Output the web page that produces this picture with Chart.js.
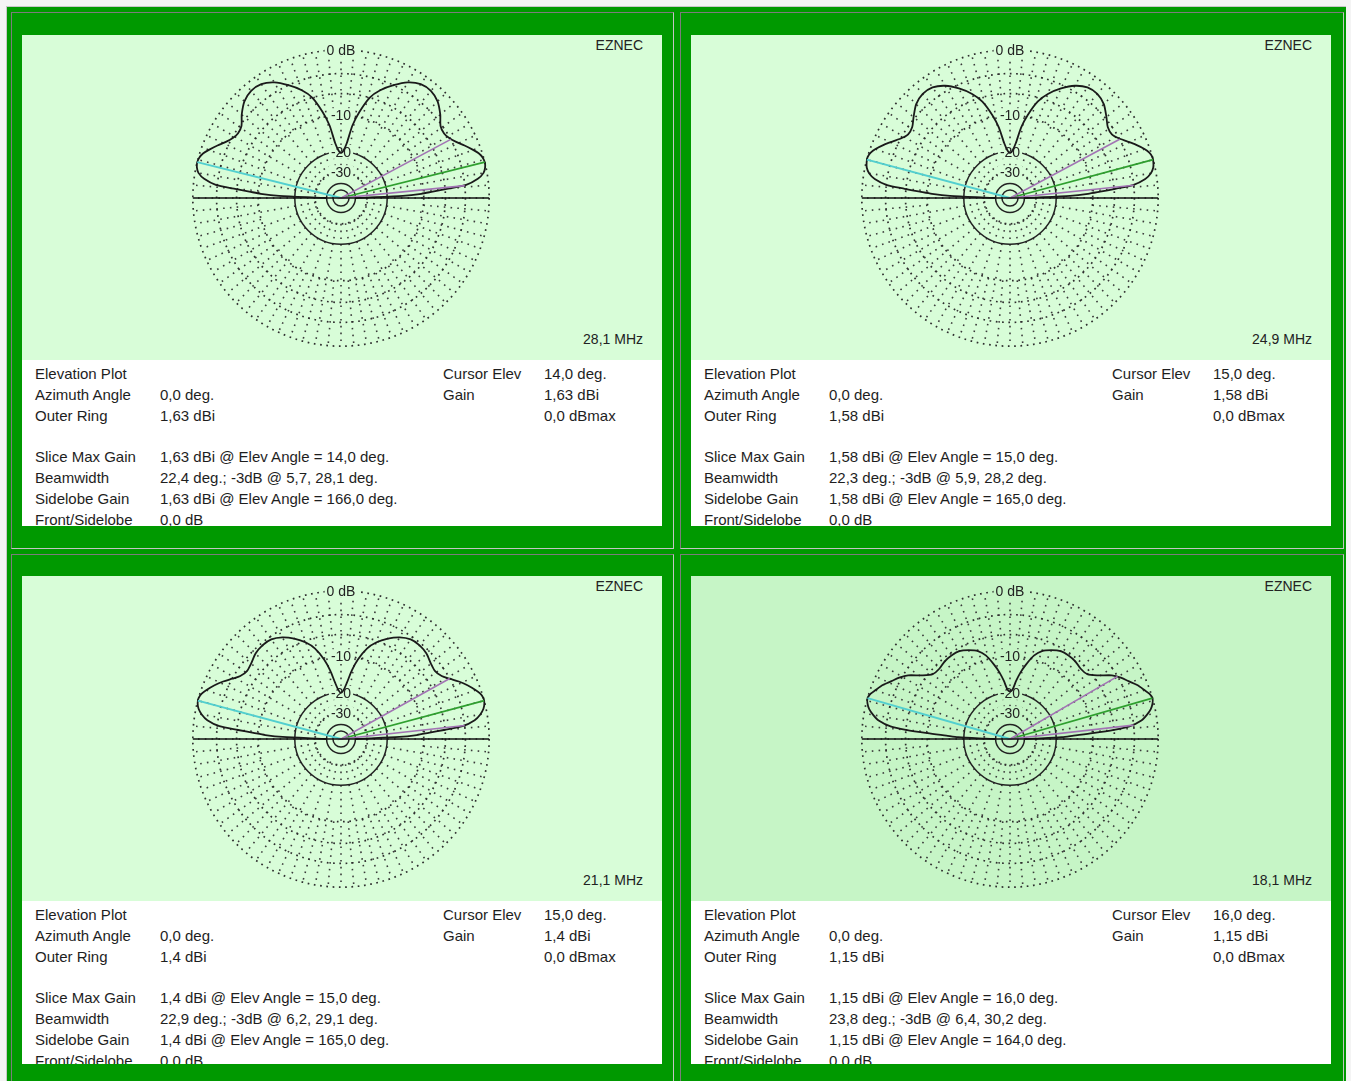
<!DOCTYPE html>
<html>
<head>
<meta charset="utf-8">
<script src="https://cdn.jsdelivr.net/npm/chart.js@4.4.0/dist/chart.umd.min.js"></script>
<style>
body { margin: 0; width: 1351px; height: 1081px; background: #f4f4f4; position: relative; overflow: hidden; font-family: "Liberation Sans", Arial, sans-serif; }
#bg { position: absolute; left: 6px; top: 6px; width: 1340px; height: 1075px; background: #009900; border-left: 1px solid #c8c8c8; border-top: 1px solid #c8c8c8; box-sizing: border-box; }
.frame { position: absolute; border-left: 1px solid #7c7c7c; border-top: 1px solid #7c7c7c; border-right: 1px solid #c4c4c4; border-bottom: 1px solid #c4c4c4; box-sizing: border-box; }
.plot { position: absolute; width: 640px; height: 325px; overflow: hidden; }
.plot canvas { position: absolute; left: 156px; top: 0; }
.tag { position: absolute; font-size: 14px; color: #222; white-space: nowrap; }
.info { position: absolute; width: 640px; background: #fff; overflow: hidden; font-size: 15px; color: #1e1e1e; }
.row { position: absolute; white-space: nowrap; line-height: 21px; }
</style>
</head>
<body>
<div id="bg"></div>
<div class="frame" style="left:11px;top:12px;width:663px;height:537px"></div>
<div class="frame" style="left:680px;top:12px;width:664px;height:537px"></div>
<div class="frame" style="left:11px;top:554px;width:663px;height:540px"></div>
<div class="frame" style="left:680px;top:554px;width:664px;height:540px"></div>
<script>
// elevation angles (deg) where the pattern was read
const elevAngles = [0, 1, 2, 3, 4, 5, 6, 8, 10, 12, 14, 16, 18, 20, 23, 26, 29, 32, 36, 40, 45, 50, 55, 60, 65, 70, 74, 78, 81, 84, 87, 90,
  93, 96, 99, 102, 106, 110, 115, 120, 125, 130, 135, 140, 144, 148, 151, 154, 157, 160, 162, 164, 166, 168, 170, 172, 174, 175, 176, 177, 178, 179, 180];

// gain in dB relative to outer ring
const gain28 = [-40, -30, -15, -10.5, -8.2, -5.5, -2.8, -1.2, -0.4, -0.1, 0, -0.1, -0.4, -0.9, -1.7, -2.5, -3.1, -3.4, -3.2, -2.3, -1.4, -1.0, -1.1, -1.8, -3.0, -4.4, -6.0, -9.0, -12.0, -17.0, -19.5, -20.5,
  -19.5, -17.0, -12.0, -9.0, -6.0, -4.4, -3.0, -1.8, -1.1, -1.0, -1.4, -2.3, -3.2, -3.4, -3.1, -2.5, -1.7, -0.9, -0.4, -0.1, 0, -0.1, -0.4, -1.2, -2.8, -5.5, -8.2, -10.5, -15, -30, -40];
const gain24 = [-40, -30, -15.5, -11, -8.5, -5.8, -3.1, -1.4, -0.6, -0.2, -0.05, 0, -0.2, -0.6, -1.4, -2.3, -3.1, -3.6, -3.5, -2.8, -1.9, -1.5, -1.6, -2.3, -3.5, -5.0, -6.7, -9.6, -12.5, -17.0, -19.5, -20.5,
  -19.5, -17.0, -12.5, -9.6, -6.7, -5.0, -3.5, -2.3, -1.6, -1.5, -1.9, -2.8, -3.5, -3.6, -3.1, -2.3, -1.4, -0.6, -0.2, 0, -0.05, -0.2, -0.6, -1.4, -3.1, -5.8, -8.5, -11, -15.5, -30, -40];
const gain21 = [-40, -31, -16, -11.5, -9, -6.2, -3.3, -1.6, -0.8, -0.3, -0.05, 0, -0.2, -0.6, -1.3, -2.1, -3.0, -3.8, -4.2, -4.0, -3.5, -3.3, -3.4, -4.0, -5.0, -6.3, -7.8, -10.3, -13.0, -16.5, -19.0, -20.0,
  -19.0, -16.5, -13.0, -10.3, -7.8, -6.3, -5.0, -4.0, -3.4, -3.3, -3.5, -4.0, -4.2, -3.8, -3.0, -2.1, -1.3, -0.6, -0.2, 0, -0.05, -0.3, -0.8, -1.6, -3.3, -6.2, -9, -11.5, -16, -31, -40];
const gain18 = [-40, -31, -18, -14.5, -10, -6.0, -3.6, -1.9, -1.1, -0.5, -0.15, 0, -0.2, -0.6, -1.2, -2.0, -2.7, -3.6, -5.4, -6.6, -6.8, -6.5, -6.4, -6.5, -7.1, -7.9, -9.2, -11.5, -13.5, -16.0, -18.8, -19.5,
  -18.8, -16.0, -13.5, -11.5, -9.2, -7.9, -7.1, -6.5, -6.4, -6.5, -6.8, -6.6, -5.4, -3.6, -2.7, -2.0, -1.2, -0.6, -0.2, 0, -0.15, -0.5, -1.1, -1.9, -3.6, -6.0, -10, -14.5, -18, -31, -40];
const gains = [gain28, gain24, gain21, gain18];

const freqLabels = ['28,1 MHz', '24,9 MHz', '21,1 MHz', '18,1 MHz'];
const maxElev = [14, 15, 15, 16];
const lowHalfPower = [5.7, 5.9, 6.2, 6.4];
const highHalfPower = [28.1, 28.2, 29.1, 30.2];
const sidelobeElev = [166, 165, 165, 164];
const outerRing = ['1,63 dBi', '1,58 dBi', '1,4 dBi', '1,15 dBi'];
const cursorElev = ['14,0 deg.', '15,0 deg.', '15,0 deg.', '16,0 deg.'];
const beamwidth = ['22,4 deg.; -3dB @ 5,7, 28,1 deg.', '22,3 deg.; -3dB @ 5,9, 28,2 deg.', '22,9 deg.; -3dB @ 6,2, 29,1 deg.', '23,8 deg.; -3dB @ 6,4, 30,2 deg.'];
const sidelobeText = ['166,0 deg.', '165,0 deg.', '165,0 deg.', '164,0 deg.'];

const ringDb = [0, -3, -6, -10, -20, -30, -40, -50];
const ringLabelDb = [0, -10, -20, -30];
const ringLabels = ['0 dB', '-10', '-20', '-30'];

// ARRL log scale: 2 dB per 0.89 step
const rOf = db => Math.pow(0.89, Math.abs(db) / 2);
const pt = (elev, db) => {
  const r = rOf(db), a = elev * Math.PI / 180;
  return { x: r * Math.cos(a), y: r * Math.sin(a) };
};

const panelLeft = [22, 691, 22, 691];
const panelTop = [35, 35, 576, 576];
const plotBg = ['#d8fdd8', '#d8fdd8', '#d8fdd8', '#c6f5c6'];

const gridPlugin = {
  id: 'arrlGrid',
  beforeDatasetsDraw(chart) {
    const { ctx, scales: { x, y } } = chart;
    const cx = x.getPixelForValue(0), cy = y.getPixelForValue(0);
    const R = x.getPixelForValue(1) - cx;
    ctx.save();
    ctx.strokeStyle = '#3a3a3a';
    // spokes
    ctx.lineWidth = 1.6;
    ctx.setLineDash([1.6, 5.2]);
    for (let a = 0; a < 360; a += 5) {
      const r0 = a % 10 === 0 ? rOf(-30) : rOf(-10);
      const t = a * Math.PI / 180;
      ctx.beginPath();
      ctx.moveTo(cx + R * r0 * Math.cos(t), cy - R * r0 * Math.sin(t));
      ctx.lineTo(cx + R * Math.cos(t), cy - R * Math.sin(t));
      ctx.stroke();
    }
    // rings
    ringDb.forEach(db => {
      const solid = db <= -20 && db !== -30;
      ctx.setLineDash(solid ? [] : [1.7, 4.6]);
      ctx.lineWidth = solid ? 1.5 : 1.7;
      ctx.strokeStyle = solid ? '#222' : '#2e2e2e';
      ctx.beginPath();
      ctx.arc(cx, cy, R * rOf(db), 0, Math.PI * 2);
      ctx.stroke();
    });
    // ring labels
    ctx.setLineDash([]);
    ctx.font = '14px "Liberation Sans", Arial, sans-serif';
    ctx.textAlign = 'center';
    ctx.textBaseline = 'middle';
    ringLabelDb.forEach((db, i) => {
      const ly = cy - R * rOf(db);
      const w = ctx.measureText(ringLabels[i]).width;
      ctx.fillStyle = chart.options.plugins.arrlGrid.bg;
      ctx.fillRect(cx - w / 2 - 2, ly - 7, w + 4, 14);
      ctx.fillStyle = '#222';
      ctx.fillText(ringLabels[i], cx, ly + 1);
    });
    ctx.restore();
  }
};

for (let i = 0; i < 4; i++) {
  const plot = document.createElement('div');
  plot.className = 'plot';
  plot.style.left = panelLeft[i] + 'px';
  plot.style.top = panelTop[i] + 'px';
  plot.style.background = plotBg[i];
  plot.innerHTML = '<canvas width="326" height="326"></canvas>' +
    '<div class="tag" style="right:19px;top:2px">EZNEC</div>' +
    '<div class="tag" style="right:19px;top:296px">' + freqLabels[i] + '</div>';
  document.body.appendChild(plot);

  const info = document.createElement('div');
  info.className = 'info';
  info.style.left = panelLeft[i] + 'px';
  info.style.top = (panelTop[i] + 325) + 'px';
  info.style.height = (i < 2 ? 166 : 163) + 'px';
  const rows = [
    [0, 13, 'Elevation Plot'], [0, 421, 'Cursor Elev'], [0, 522, cursorElev[i]],
    [1, 13, 'Azimuth Angle'], [1, 138, '0,0 deg.'], [1, 421, 'Gain'], [1, 522, outerRing[i]],
    [2, 13, 'Outer Ring'], [2, 138, outerRing[i]], [2, 522, '0,0 dBmax'],
    [4, 13, 'Slice Max Gain'], [4, 138, outerRing[i] + ' @ Elev Angle = ' + cursorElev[i]],
    [5, 13, 'Beamwidth'], [5, 138, beamwidth[i]],
    [6, 13, 'Sidelobe Gain'], [6, 138, outerRing[i] + ' @ Elev Angle = ' + sidelobeText[i]],
    [7, 13, 'Front/Sidelobe'], [7, 138, '0,0 dB']
  ];
  info.innerHTML = rows.map(r => '<div class="row" style="left:' + r[1] + 'px;top:' + (3 + r[0] * 20.8) + 'px">' + r[2] + '</div>').join('');
  document.body.appendChild(info);

  const pattern = elevAngles.map((e, k) => pt(e, gains[i][k]));
  new Chart(plot.querySelector('canvas'), {
    type: 'scatter',
    data: {
      datasets: [
        { data: [{ x: -1, y: 0 }, { x: 1, y: 0 }], borderColor: '#111', borderWidth: 1.7 },
        { data: [pt(lowHalfPower[i], -3), { x: 0, y: 0 }, pt(highHalfPower[i], -3)], borderColor: '#a274b4', borderWidth: 1.6 },
        { data: [{ x: 0, y: 0 }, pt(maxElev[i], 0)], borderColor: '#2f9f2f', borderWidth: 1.8 },
        { data: [{ x: 0, y: 0 }, pt(sidelobeElev[i], 0)], borderColor: '#52cfcf', borderWidth: 2 },
        { data: pattern, borderColor: '#1a1a1a', borderWidth: 1.8, tension: 0.25 }
      ].map(d => Object.assign({ showLine: true, pointRadius: 0, clip: false }, d))
    },
    options: {
      responsive: false,
      animation: false,
      events: [],
      layout: { padding: 0 },
      scales: {
        x: { type: 'linear', min: -1.1, max: 1.1, display: false },
        y: { type: 'linear', min: -1.1, max: 1.1, display: false }
      },
      plugins: { legend: { display: false }, tooltip: { enabled: false }, arrlGrid: { bg: plotBg[i] } }
    },
    plugins: [gridPlugin]
  });
}
</script>
</body>
</html>
